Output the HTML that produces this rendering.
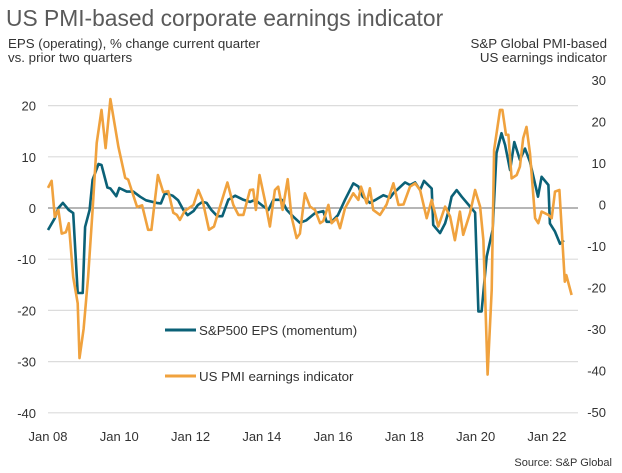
<!DOCTYPE html>
<html><head><meta charset="utf-8"><style>
body{margin:0;background:#fff;font-family:"Liberation Sans",Arial,sans-serif;}
svg{display:block}
</style></head><body>
<svg width="622" height="473" viewBox="0 0 622 473" id="chart">
<text x="6" y="26" font-size="22.8" fill="#5a5a5a">US PMI-based corporate earnings indicator</text>
<text x="8" y="48" font-size="13.3" fill="#333">EPS (operating), % change current quarter</text>
<text x="8" y="62" font-size="13.3" fill="#333">vs. prior two quarters</text>
<text x="607" y="48" font-size="13.3" fill="#333" text-anchor="end">S&amp;P Global PMI-based</text>
<text x="607" y="62" font-size="13.3" fill="#333" text-anchor="end">US earnings indicator</text>
<text x="612" y="466" font-size="11" fill="#333" text-anchor="end">Source: S&amp;P Global</text>
<g id="grid"></g><g id="axes"></g><g id="series"></g>
<g>
<line x1="165" y1="330" x2="196" y2="330" stroke="#0b6177" stroke-width="3"/>
<text x="199" y="335" font-size="13.3" fill="#333">S&amp;P500 EPS (momentum)</text>
<line x1="165" y1="376" x2="196" y2="376" stroke="#f0a23e" stroke-width="3"/>
<text x="199" y="381" font-size="13.3" fill="#333">US PMI earnings indicator</text>
</g>
</svg>
<script>
const leftTicks=[20,10,0,-10,-20,-30,-40];
const rightTicks=[30,20,10,0,-10,-20,-30,-40,-50];
const xLabels=["Jan 08","Jan 10","Jan 12","Jan 14","Jan 16","Jan 18","Jan 20","Jan 22"];
const xLabelMonths=[0,24,48,72,96,120,144,168];
const epsMonths=[0,2.3,3.5,5,7,8.5,10,11.7,12.5,14,15,17,18,20,21,23,24,26.5,28.7,31,33,36.6,38,39.4,42,43.8,45.6,47,49,50.5,52,53.4,55,57,58.7,60.7,63,65.8,68,69.7,71.9,74.2,75.9,78.7,80.4,82.6,84.8,87,89.9,92.7,93.8,95.5,97.6,100,102.8,104.5,106,108.4,110.6,112.9,115.2,116.3,118,120.2,121.9,123.6,125.3,126.6,129.2,129.7,132,133.7,134.8,135.9,137.6,139.3,142.1,143.8,144.9,146,147.7,149.7,151,152.7,153.9,155.6,157,158.9,160.6,162.3,165,166.2,168.5,169,170.7,172.4,173.7];
const epsValues=[-4.3,-2,0,1,-0.4,-1,-16.6,-16.6,-3.7,-0.4,5.5,8.6,8.4,4,3.8,2.3,3.9,3.2,3.2,2.2,1.5,1,0.9,2.9,2.4,1.5,-0.4,-1.4,-0.6,0.6,1.2,1,-0.4,-1.6,-1.6,1.6,2.4,1.6,1.2,1.6,0.6,-0.4,1.6,1.6,-0.4,-1.7,-2.9,-2.4,-1,-0.6,-2.7,-2.7,-1.4,1.6,4.8,4.2,2.2,1,1.7,2.5,2,2.9,3.8,5,4.5,5,3.5,5.3,3.8,-3.3,-4.9,-3,-0.7,2.2,3.5,2.2,0.3,-0.9,-20.2,-20.2,-9.5,-4.3,10.7,14.6,12.3,7.4,12.9,9.4,11.6,9,2.2,6.1,4.5,-3,-4.6,-7,-6.3];
const pmiMonths=[0,1.2,2.3,3.5,4.6,6,7,8.5,10,10.6,12,13.5,15,16.4,18,19.4,21,23.7,26,27,30,31.7,33.7,34.8,37,38.8,40.5,42.2,43.4,44.4,46,49,50.6,52,52.5,54.2,55.9,57.9,60.4,62.4,64.1,65.8,68,69.1,70,71.2,73,74.7,76.4,77.5,79,80.7,82,83.7,84.8,86.5,88.2,89.9,91.6,92.7,94.4,95.5,97.2,98.3,100,102.8,104.5,105.4,107.3,108.4,109.5,111.8,114,116.3,118,119.7,121.9,123.6,125.3,127.5,129.2,131.4,133.7,135.4,137,138.7,139.8,142.1,143.8,145.5,146.6,148,149.4,150.2,152.2,153,154.2,155,156.1,157.8,158.9,160,161.1,162.3,164,165.1,166.2,168.5,169.6,170.7,172.2,174,174.5,176.3];
const pmiValues=[4,5.7,-3,-1.3,-7,-6.7,-4.5,-17.5,-23.8,-37,-30,-17.5,-1.3,14.8,22.8,13.6,25.4,13.9,6.4,6,-0.6,-0.2,-6.1,-6.1,7.1,3,3.2,-2,-2.5,-3.7,-1.6,-0.1,3.5,1.1,-0.5,-6.1,-5.3,-0.5,5.3,-0.1,-2.5,-2.5,3.5,3.6,-1.3,7.1,1.1,-5.3,3.5,4.3,-1.3,6.1,-2.9,-8.1,-7,2.7,-0.5,-1.3,-4.5,-4,-0.1,-4.5,-3.3,-5.7,-0.9,2.7,1.1,4.3,0.3,3.9,-1.3,-2.5,0,5.1,-0.1,0,4.3,5.1,3.5,-3.3,1.1,-5.3,-0.5,-2.9,-8.6,-1.7,-7.3,-2.1,3.5,-0.5,-8.6,-41,-20.6,13.1,22.8,22.8,16.8,16.8,6.3,7.1,9.1,16,18.7,12.3,-3.3,-4.5,-1.7,-2.5,-3.3,3.1,3.5,-18.6,-17,-21.8];

const NS="http://www.w3.org/2000/svg";
const xS=m=>48+2.97*m;
const yL=v=>208-5.12*v;
const yR=v=>204.5-4.15*v;
function mk(tag,attrs,parent){const e=document.createElementNS(NS,tag);for(const k in attrs)e.setAttribute(k,attrs[k]);parent.appendChild(e);return e;}
const grid=document.getElementById('grid'),axes=document.getElementById('axes'),ser=document.getElementById('series');
leftTicks.forEach(v=>{
  const g=mk('line',{x1:48,x2:578,y1:yL(v),y2:yL(v),stroke:v===0?'#6e6e6e':'#dcdcdc','stroke-width':v===0?1:1.2},grid);
  
  
  const t=mk('text',{x:36,y:yL(v)+5,'font-size':13,fill:'#333','text-anchor':'end'},axes);
  t.textContent=v;
  
  
});
rightTicks.forEach(v=>{
  const t=mk('text',{x:606,y:yR(v)+5,'font-size':13,fill:'#333','text-anchor':'end'},axes);
  t.textContent=v;
  
  
});
xLabels.forEach((s,i)=>{
  const t=mk('text',{x:xS(xLabelMonths[i]),y:441,'font-size':13,fill:'#333','text-anchor':'middle'},axes);
  t.textContent=s;
  
  
});
const pP=pmiMonths.map((m,i)=>xS(m).toFixed(1)+','+yR(pmiValues[i]).toFixed(1)).join(' ');
const pl=mk('polyline',{points:pP,fill:'none',stroke:'#f0a23e','stroke-width':2.6,'stroke-linejoin':'round'},ser);


const eP=epsMonths.map((m,i)=>xS(m).toFixed(1)+','+yL(epsValues[i]).toFixed(1)).join(' ');
const el=mk('polyline',{points:eP,fill:'none',stroke:'#0b6177','stroke-width':2.6,'stroke-linejoin':'round'},ser);


ser.insertBefore(el,pl);
</script>
</body></html>
